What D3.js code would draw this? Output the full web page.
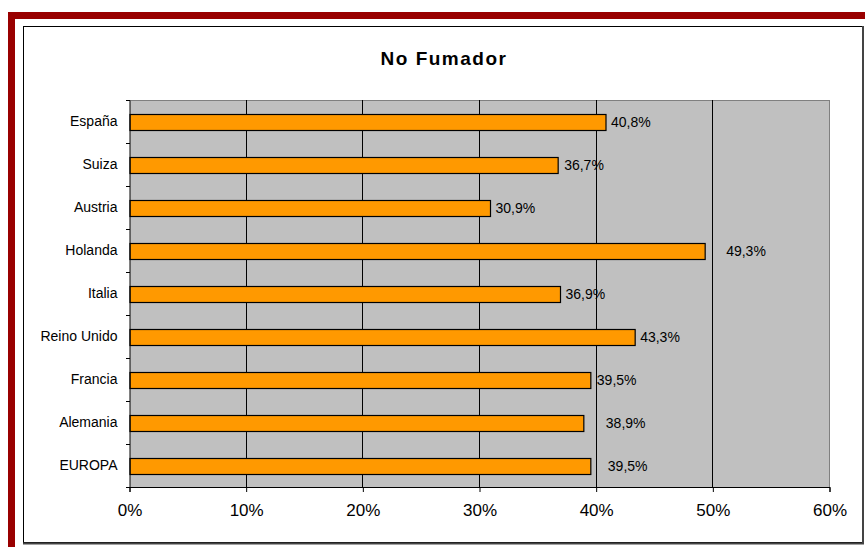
<!DOCTYPE html>
<html>
<head>
<meta charset="utf-8">
<script src="https://cdn.jsdelivr.net/npm/d3@7"></script>
<style>
  html, body { margin: 0; padding: 0; background: #fff; }
  svg { display: block; }
  text { font-family: "Liberation Sans", Arial, sans-serif; }
</style>
</head>
<body>
<svg id="chart" width="865" height="547"></svg>
<script>
// ---- data ----
const title = "No Fumador";
const categories = ["España", "Suiza", "Austria", "Holanda", "Italia", "Reino Unido", "Francia", "Alemania", "EUROPA"];
const values = [40.8, 36.7, 30.9, 49.3, 36.9, 43.3, 39.5, 38.9, 39.5];
const valueLabels = ["40,8%", "36,7%", "30,9%", "49,3%", "36,9%", "43,3%", "39,5%", "38,9%", "39,5%"];
const xTicks = [0, 10, 20, 30, 40, 50, 60];

// ---- layout (manual label nudges as in the original) ----
const labelNudge = [5, 6, 5, 21, 5, 5, 6, 22, 17];

const svg = d3.select("#chart");

// outer decorative dark-red frame
svg.append("rect").attr("x", 8).attr("y", 12).attr("width", 857).attr("height", 7).attr("fill", "#990000");
svg.append("rect").attr("x", 8).attr("y", 12).attr("width", 7).attr("height", 535).attr("fill", "#990000");

// chart box with shadow on right/bottom
svg.append("rect").attr("x", 23.5).attr("y", 26.5).attr("width", 839).attr("height", 516)
  .attr("fill", "#fff").attr("stroke", "#000").attr("stroke-width", 1);
svg.append("line").attr("x1", 863).attr("y1", 26).attr("x2", 863).attr("y2", 544).attr("stroke", "#444").attr("stroke-width", 2);
svg.append("line").attr("x1", 23).attr("y1", 543.5).attr("x2", 864).attr("y2", 543.5).attr("stroke", "#444").attr("stroke-width", 2);

// title
svg.append("text").attr("x", 444).attr("y", 65).attr("text-anchor", "middle")
  .attr("font-size", 19).attr("font-weight", "bold").attr("letter-spacing", "1.5px")
  .attr("fill", "#000").text(title);

const pLeft = 130, pRight = 830, pTop = 100, pBottom = 487;

const x = d3.scaleLinear().domain([0, 60]).range([pLeft, pRight]);
const yOuter = d3.scaleBand().domain(categories).range([pTop, pBottom]);

// plot area
svg.append("rect").attr("x", pLeft).attr("y", pTop).attr("width", pRight - pLeft).attr("height", pBottom - pTop)
  .attr("fill", "#C0C0C0");
svg.append("line").attr("x1", pLeft).attr("y1", pTop + 0.5).attr("x2", pRight).attr("y2", pTop + 0.5).attr("stroke", "#808080");
svg.append("line").attr("x1", pRight - 0.5).attr("y1", pTop).attr("x2", pRight - 0.5).attr("y2", pBottom).attr("stroke", "#808080");

// gridlines
svg.append("g").selectAll("line").data(xTicks.filter(d => d > 0 && d < 60)).join("line")
  .attr("x1", d => Math.round(x(d)) - 0.5).attr("x2", d => Math.round(x(d)) - 0.5)
  .attr("y1", pTop).attr("y2", pBottom).attr("stroke", "#000").attr("stroke-width", 1);

// bars
svg.append("g").selectAll("rect").data(values).join("rect")
  .attr("x", x(0))
  .attr("y", (d, i) => Math.round(yOuter(categories[i]) + yOuter.bandwidth() / 2 - 8) + 0.5)
  .attr("width", d => x(d) - x(0))
  .attr("height", 16)
  .attr("fill", "#FF9900").attr("stroke", "#000").attr("stroke-width", 1.2);

// value labels
svg.append("g").selectAll("text").data(values).join("text")
  .attr("x", (d, i) => x(d) + labelNudge[i])
  .attr("y", (d, i) => yOuter(categories[i]) + yOuter.bandwidth() / 2 + 5)
  .attr("font-size", 14).attr("fill", "#000")
  .text((d, i) => valueLabels[i]);

// x axis
const xAxis = d3.axisBottom(x).tickValues(xTicks).tickFormat(d => d + "%").tickSize(5).tickPadding(12);
const gx = svg.append("g").attr("transform", `translate(-0.5,${pBottom})`).call(xAxis);
gx.select(".domain").attr("stroke", "#000");
gx.selectAll(".tick line").attr("stroke", "#000");
gx.selectAll("text").attr("font-size", 17).attr("fill", "#000").attr("font-family", "Liberation Sans, Arial, sans-serif");

// y axis
const yAxis = d3.axisLeft(yOuter).tickSize(0).tickPadding(12);
const gy = svg.append("g").attr("transform", `translate(${pLeft - 0.5},0)`).call(yAxis);
gy.select(".domain").attr("stroke", "#000");
gy.selectAll("text").attr("font-size", 14).attr("fill", "#000").attr("font-family", "Liberation Sans, Arial, sans-serif");
// category boundary ticks
svg.append("g").selectAll("line").data(d3.range(categories.length + 1)).join("line")
  .attr("x1", pLeft - 4).attr("x2", pLeft)
  .attr("y1", i => pTop + i * yOuter.step() + 0.5).attr("y2", i => pTop + i * yOuter.step() + 0.5)
  .attr("stroke", "#000");
</script>
</body>
</html>
